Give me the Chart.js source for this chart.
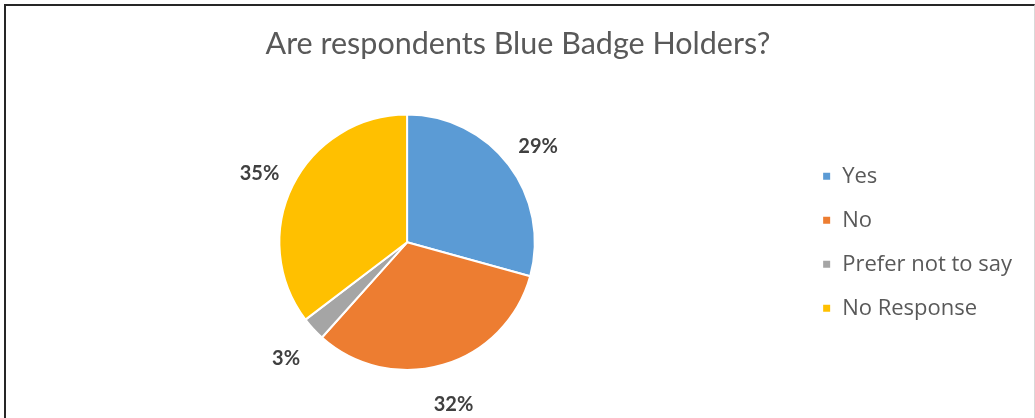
<!DOCTYPE html>
<html>
<head>
<meta charset="utf-8">
<script src="https://cdn.jsdelivr.net/npm/chart.js@4.4.0/dist/chart.umd.min.js"></script>
<style>
  html, body { margin: 0; padding: 0; background: #fff; }
  #frame {
    position: absolute; left: 4px; top: 4px;
    width: 1028px; height: 412px;
    border-left: 2px solid #262626;
    border-top: 2px solid #262626;
    border-right: 1px solid #d9d9d9;
  }
  #frame canvas { display: block; }
</style>
</head>
<body>
<div id="frame"><canvas id="pie" width="1028" height="412"></canvas></div>
<script>
// Values
const categories = ['Yes', 'No', 'Prefer not to say', 'No Response'];
const shares = [29, 32, 3, 35];
const colours = ['#5b9bd5', '#ed7d31', '#a5a5a5', '#ffc000'];

// Percent labels drawn just outside each slice
const outsideLabels = {
  id: 'outsideLabels',
  afterDatasetsDraw( chart ) {
    const ctx = chart.ctx;
    const meta = chart.getDatasetMeta( 0 );
    ctx.save();
    ctx.font = 'bold 20px Lato';
    ctx.fillStyle = '#404040';
    ctx.textAlign = 'center';
    ctx.textBaseline = 'middle';
    meta.data.forEach( ( arc, i ) => {
      const mid = ( arc.startAngle + arc.endAngle ) / 2;
      const r = arc.outerRadius + 37;
      ctx.fillText( shares[i] + '%', arc.x + Math.cos( mid ) * r, arc.y + Math.sin( mid ) * r + 4 );
    } );
    ctx.restore();
  }
};

new Chart( document.getElementById( 'pie' ), {
  type: 'pie',
  data: {
    labels: categories,
    datasets: [ {
      data: shares,
      backgroundColor: colours,
      borderColor: '#ffffff',
      borderWidth: 2
    } ]
  },
  options: {
    responsive: false,
    animation: false,
    layout: { padding: { left: 8, right: 12, top: 0, bottom: 47 } },
    plugins: {
      title: {
        display: true,
        text: 'Are respondents Blue Badge Holders?',
        color: '#595959',
        font: { family: 'Lato', size: 30.5, weight: 'normal' },
        padding: { top: 20, bottom: 51 }
      },
      legend: {
        position: 'right',
        fullSize: false,
        labels: {
          boxWidth: 9,
          boxHeight: 9,
          padding: 22,
          color: '#595959',
          font: { family: 'Open Sans', size: 22 }
        }
      },
      tooltip: { enabled: false }
    }
  },
  plugins: [ outsideLabels ]
} );
</script>
</body>
</html>
